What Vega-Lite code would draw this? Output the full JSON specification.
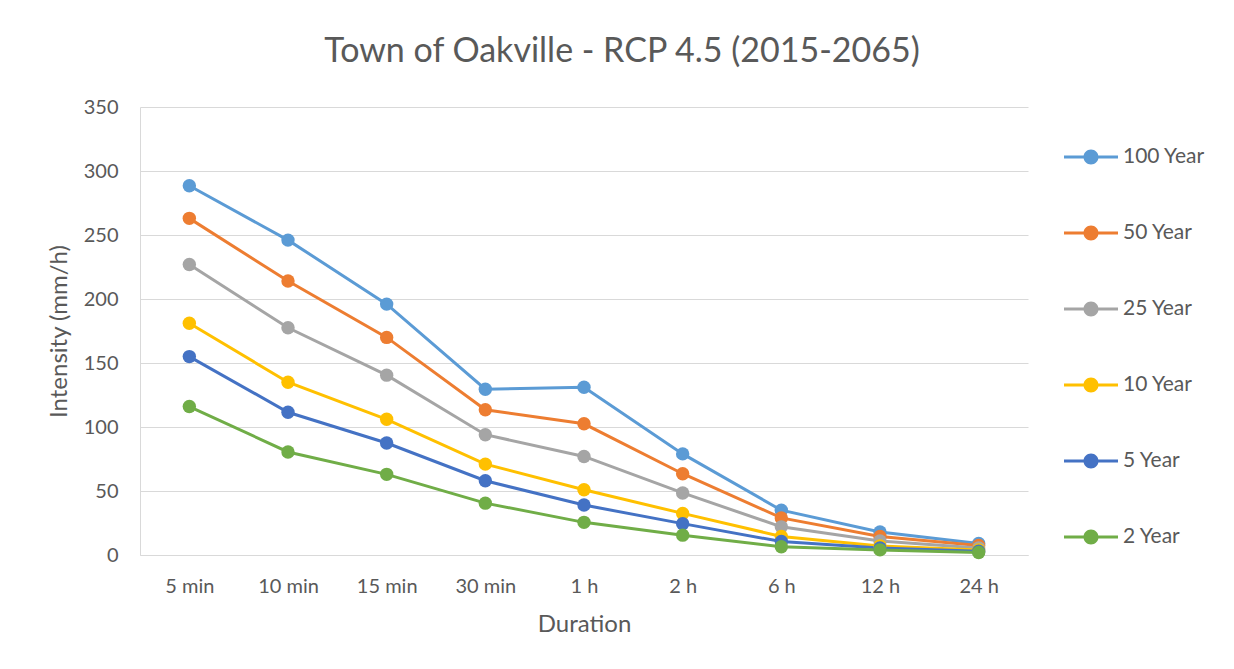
{
  "$schema": "https://vega.github.io/schema/vega-lite/v6.json",
  "width": 888,
  "height": 448,
  "padding": {"left": 47, "top": 35, "right": 10, "bottom": 10},
  "background": "white",
  "title": {
    "text": "Town of Oakville - RCP 4.5 (2015-2065)",
    "font": "Lato",
    "fontSize": 34,
    "fontWeight": "normal",
    "color": "#595959",
    "anchor": "middle",
    "dx": 38,
    "offset": 28
  },
  "data": {
    "values": [
      {"duration": "5 min", "period": "100 Year", "intensity": 288.5},
      {"duration": "10 min", "period": "100 Year", "intensity": 246},
      {"duration": "15 min", "period": "100 Year", "intensity": 196},
      {"duration": "30 min", "period": "100 Year", "intensity": 129.5},
      {"duration": "1 h", "period": "100 Year", "intensity": 131},
      {"duration": "2 h", "period": "100 Year", "intensity": 79},
      {"duration": "6 h", "period": "100 Year", "intensity": 35},
      {"duration": "12 h", "period": "100 Year", "intensity": 18},
      {"duration": "24 h", "period": "100 Year", "intensity": 9},
      {"duration": "5 min", "period": "50 Year", "intensity": 263},
      {"duration": "10 min", "period": "50 Year", "intensity": 214},
      {"duration": "15 min", "period": "50 Year", "intensity": 170},
      {"duration": "30 min", "period": "50 Year", "intensity": 113.5},
      {"duration": "1 h", "period": "50 Year", "intensity": 102.5},
      {"duration": "2 h", "period": "50 Year", "intensity": 63.5},
      {"duration": "6 h", "period": "50 Year", "intensity": 29},
      {"duration": "12 h", "period": "50 Year", "intensity": 14.5},
      {"duration": "24 h", "period": "50 Year", "intensity": 7.5},
      {"duration": "5 min", "period": "25 Year", "intensity": 227},
      {"duration": "10 min", "period": "25 Year", "intensity": 177.5},
      {"duration": "15 min", "period": "25 Year", "intensity": 140.5},
      {"duration": "30 min", "period": "25 Year", "intensity": 94},
      {"duration": "1 h", "period": "25 Year", "intensity": 77},
      {"duration": "2 h", "period": "25 Year", "intensity": 48.5},
      {"duration": "6 h", "period": "25 Year", "intensity": 22},
      {"duration": "12 h", "period": "25 Year", "intensity": 11},
      {"duration": "24 h", "period": "25 Year", "intensity": 5.5},
      {"duration": "5 min", "period": "10 Year", "intensity": 181},
      {"duration": "10 min", "period": "10 Year", "intensity": 135},
      {"duration": "15 min", "period": "10 Year", "intensity": 106},
      {"duration": "30 min", "period": "10 Year", "intensity": 71},
      {"duration": "1 h", "period": "10 Year", "intensity": 51},
      {"duration": "2 h", "period": "10 Year", "intensity": 32.5},
      {"duration": "6 h", "period": "10 Year", "intensity": 14.5},
      {"duration": "12 h", "period": "10 Year", "intensity": 7},
      {"duration": "24 h", "period": "10 Year", "intensity": 4},
      {"duration": "5 min", "period": "5 Year", "intensity": 155},
      {"duration": "10 min", "period": "5 Year", "intensity": 111.5},
      {"duration": "15 min", "period": "5 Year", "intensity": 87.5},
      {"duration": "30 min", "period": "5 Year", "intensity": 58},
      {"duration": "1 h", "period": "5 Year", "intensity": 39},
      {"duration": "2 h", "period": "5 Year", "intensity": 24.5},
      {"duration": "6 h", "period": "5 Year", "intensity": 10.5},
      {"duration": "12 h", "period": "5 Year", "intensity": 5.5},
      {"duration": "24 h", "period": "5 Year", "intensity": 3},
      {"duration": "5 min", "period": "2 Year", "intensity": 116},
      {"duration": "10 min", "period": "2 Year", "intensity": 80.5},
      {"duration": "15 min", "period": "2 Year", "intensity": 63},
      {"duration": "30 min", "period": "2 Year", "intensity": 40.5},
      {"duration": "1 h", "period": "2 Year", "intensity": 25.5},
      {"duration": "2 h", "period": "2 Year", "intensity": 15.5},
      {"duration": "6 h", "period": "2 Year", "intensity": 6.5},
      {"duration": "12 h", "period": "2 Year", "intensity": 4},
      {"duration": "24 h", "period": "2 Year", "intensity": 2}
    ]
  },
  "mark": {
    "type": "line",
    "strokeWidth": 3,
    "point": {"filled": true, "size": 180, "opacity": 1}
  },
  "encoding": {
    "x": {
      "field": "duration",
      "type": "ordinal",
      "sort": ["5 min", "10 min", "15 min", "30 min", "1 h", "2 h", "6 h", "12 h", "24 h"],
      "scale": {"paddingInner": 0, "paddingOuter": 0.5},
      "axis": {
        "title": "Duration",
        "labelAngle": 0,
        "ticks": false,
        "grid": false,
        "domainColor": "#D9D9D9",
        "labelPadding": 21,
        "titlePadding": 16
      }
    },
    "y": {
      "field": "intensity",
      "type": "quantitative",
      "scale": {"domain": [0, 350], "nice": false},
      "axis": {
        "title": "Intensity (mm/h)",
        "values": [0, 50, 100, 150, 200, 250, 300, 350],
        "ticks": false,
        "domain": true,
        "domainColor": "#D9D9D9",
        "gridColor": "#D9D9D9",
        "labelPadding": 22,
        "titlePadding": 12
      }
    },
    "color": {
      "field": "period",
      "type": "nominal",
      "scale": {
        "domain": ["100 Year", "50 Year", "25 Year", "10 Year", "5 Year", "2 Year"],
        "range": ["#5B9BD5", "#ED7D31", "#A5A5A5", "#FFC000", "#4472C4", "#70AD47"]
      },
      "legend": {
        "title": null,
        "orient": "none",
        "legendX": 924,
        "legendY": 23,
        "padding": 0,
        "rowPadding": 39,
        "symbolType": "M-1,-0.056H1V0.056H-1Z M0.278,0A0.278,0.278,0,1,1,-0.278,0A0.278,0.278,0,1,1,0.278,0Z",
        "symbolSize": 2916,
        "symbolStrokeWidth": 0,
        "labelOffset": 5,
        "encode": {
          "symbols": {
            "update": {
              "fill": {"scale": "color", "field": "value"},
              "fillOpacity": {"value": 1},
              "strokeWidth": {"value": 0}
            }
          }
        }
      }
    }
  },
  "config": {
    "font": "Lato",
    "view": {"stroke": null},
    "axis": {
      "labelFont": "Lato",
      "labelFontSize": 20,
      "labelColor": "#595959",
      "titleFont": "Lato",
      "titleFontSize": 24,
      "titleFontWeight": "normal",
      "titleColor": "#595959"
    },
    "legend": {
      "labelFont": "Lato",
      "labelFontSize": 21,
      "labelColor": "#595959"
    }
  }
}
